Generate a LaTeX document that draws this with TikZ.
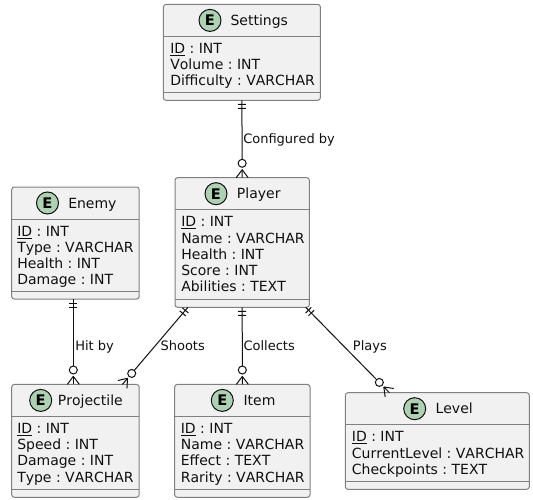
\documentclass[tikz,border=0pt]{standalone}
\usepackage{fontspec}
\setmainfont{DejaVu Sans}[Kerning=Off]
\usetikzlibrary{calc}
\definecolor{boxfill}{HTML}{F1F1F1}
\definecolor{boxline}{HTML}{808080}
\definecolor{ink}{HTML}{101010}
\definecolor{spot}{HTML}{ADD1B2}
\tikzset{
  px/.style={x=0.75pt,y=-0.75pt},
  entity/.style={draw=boxline,fill=boxfill,line width=0.75pt,rounded corners=2pt,anchor=north west,inner sep=0pt,outer sep=0pt},
  divider/.style={draw=boxline,line width=0.75pt},
  title/.style={anchor=base west,inner sep=0pt,font=\frenchspacing\fontsize{10.5pt}{12pt}\selectfont,text=ink},
  attr/.style={anchor=base west,inner sep=0pt,font=\frenchspacing\fontsize{10.5pt}{12pt}\selectfont,text=ink},
  spotnode/.style={circle,draw=ink,fill=spot,line width=0.75pt,minimum size=16.5pt,inner sep=0pt,font=\bfseries\fontsize{11pt}{12pt}\selectfont,text=black},
  conn/.style={draw=ink,line width=0.75pt},
  rellabel/.style={anchor=base west,inner sep=0pt,font=\frenchspacing\fontsize{9.75pt}{12pt}\selectfont,text=ink},
}
% #1 name, #2 left, #3 top, #4 right, #5 bottom, #6 title, #7 spot x, #8 title x
\newcommand{\entbox}[8]{%
  \node[entity,minimum width={(#4-#2)*0.75pt},minimum height={(#5-#3)*0.75pt}] (#1) at (#2,#3) {};
  \draw[divider] ([yshift=-24pt]#1.north west) -- ([yshift=-24pt]#1.north east);
  \draw[divider] ([yshift=6pt]#1.south west) -- ([yshift=6pt]#1.south east);
  \node[spotnode] (#1spot) at (#7,#3+16) {E};
  \node[title] (#1title) at (#8,#3+21) {#6};
}
% #1 name, #2 x, #3 first baseline, #4 list of lines after the ID line
\newcommand{\attrlines}[4]{%
  \node[attr] (#1id) at (#2,#3) {\underline{ID} : INT};
  \foreach \t [count=\i] in {#4} {
    \node[attr] (#1line\i) at (#2,#3+16.3*\i) {\t};
  }
}
% #1 start, #2 end: two ticks at the start, circle and crow's foot at the end
\newcommand{\erlink}[2]{%
  \coordinate (s) at (#1);
  \coordinate (e) at (#2);
  \coordinate (t1) at ($(s)!3pt!(e)$);
  \coordinate (t2) at ($(s)!6pt!(e)$);
  \coordinate (c) at ($(e)!10.8pt!(s)$);
  \coordinate (k) at ($(e)!13.8pt!(s)$);
  \coordinate (f) at ($(e)!6pt!(s)$);
  \draw[conn] (s) -- (k);
  \draw[conn] ($(t1)!3pt!90:(e)$) -- ($(t1)!3pt!-90:(e)$);
  \draw[conn] ($(t2)!3pt!90:(e)$) -- ($(t2)!3pt!-90:(e)$);
  \draw[conn,fill=white] (c) circle[radius=3pt];
  \draw[conn] (f) -- (e);
  \draw[conn] (f) -- ($(e)!4.5pt!90:(s)$);
  \draw[conn] (f) -- ($(e)!4.5pt!-90:(s)$);
}
\begin{document}
\begin{tikzpicture}[px]
\useasboundingbox[fill=white] (0,0) rectangle (533,500);
\entbox{settings}{163.4}{4.4}{320.4}{100.3}{Settings}{210}{230.3}
\attrlines{settings}{170}{53.3}{Volume : INT,Difficulty : VARCHAR}
\entbox{player}{175}{177.7}{309.4}{307.3}{Player}{216}{236.7}
\attrlines{player}{181}{226.7}{Name : VARCHAR,Health : INT,Score : INT,Abilities : TEXT}
\entbox{enemy}{11.7}{187}{139.2}{299}{Enemy}{47.5}{68}
\attrlines{enemy}{17}{236}{Type : VARCHAR,Health : INT,Damage : INT}
\entbox{projectile}{11.7}{384.4}{139.2}{497.3}{Projectile}{40.7}{57.7}
\attrlines{projectile}{17}{433.3}{Speed : INT,Damage : INT,Type : VARCHAR}
\entbox{item}{174.7}{384.4}{310}{497.3}{Item}{222.3}{243.3}
\attrlines{item}{180.6}{433.3}{Name : VARCHAR,Effect : TEXT,Rarity : VARCHAR}
\entbox{level}{345.3}{392.7}{529.3}{489.3}{Level}{414.7}{435.3}
\attrlines{level}{351.7}{441.7}{CurrentLevel : VARCHAR,Checkpoints : TEXT}

\erlink{settings.south}{player.north}
\erlink{[xshift=-1.6pt]enemy.south}{[xshift=-1.6pt]projectile.north}
\erlink{[xshift=-40.7pt]player.south}{[xshift=35.2pt]projectile.north}
\erlink{player.south}{item.north}
\erlink{[xshift=47.6pt]player.south}{[xshift=-35.9pt]level.north}

\node[rellabel] (lconf) at (243,143.5) {Configured by};
\node[rellabel] (lhit) at (75,350) {Hit by};
\node[rellabel] (lshoots) at (160.3,350) {Shoots};
\node[rellabel] (lcoll) at (243.3,350) {Collects};
\node[rellabel] (lplays) at (352.7,350) {Plays};
\end{tikzpicture}
\end{document}
